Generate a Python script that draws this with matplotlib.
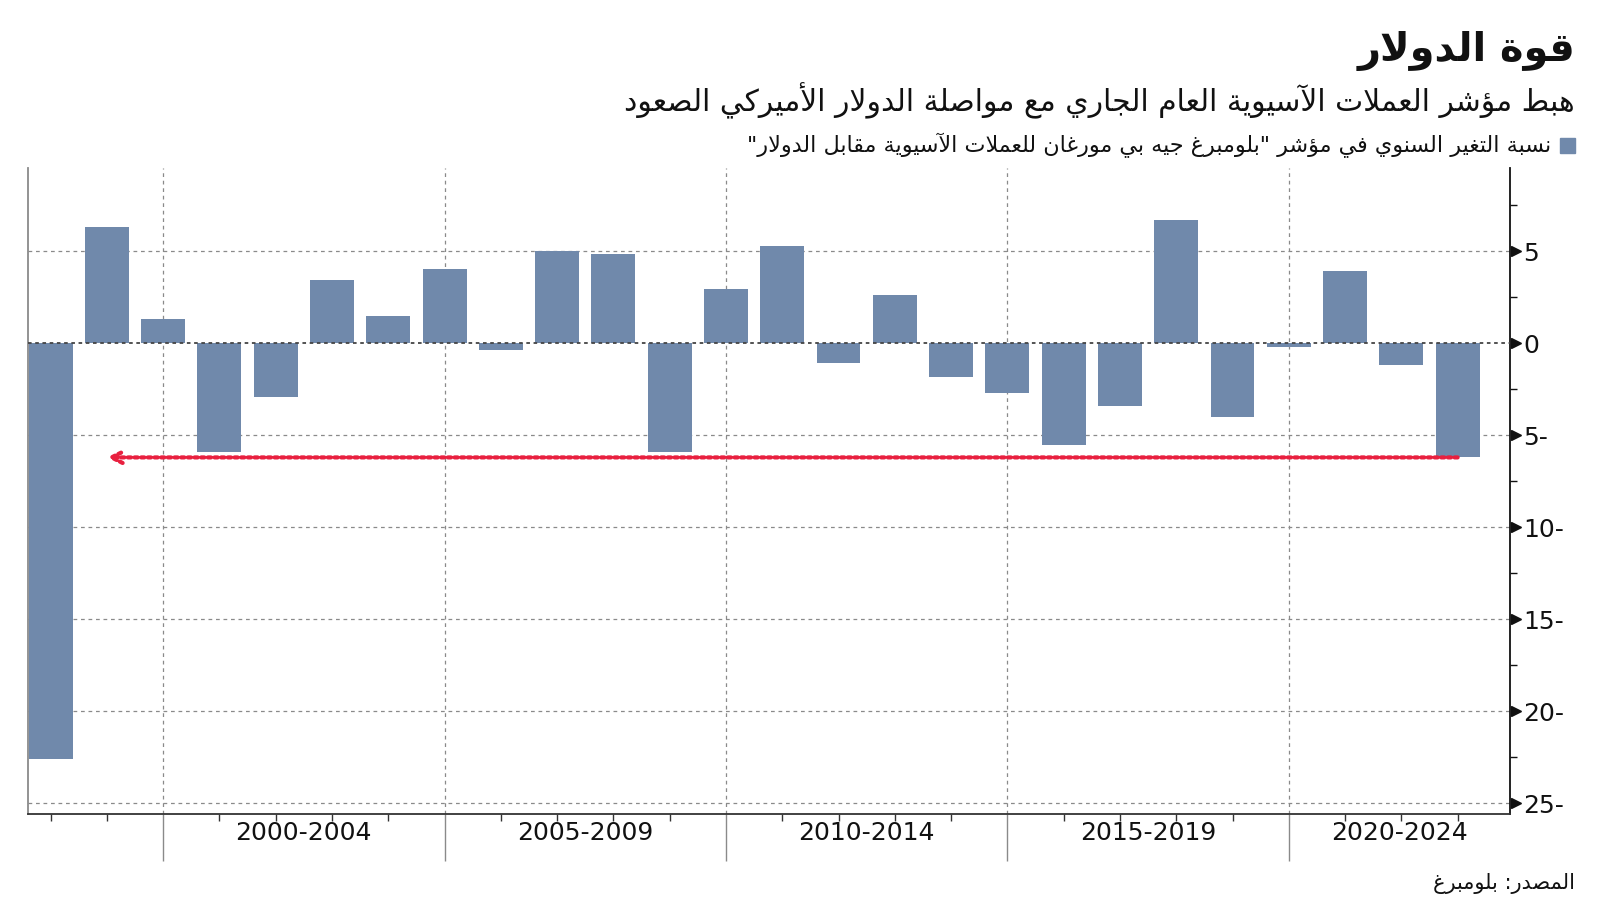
import numpy as np
import matplotlib
matplotlib.use("Agg")
import matplotlib.pyplot as plt
from matplotlib.ticker import FixedLocator, FixedFormatter, MultipleLocator

# ---------------- data ----------------
years = list(range(1997, 2023))
values = [-22.6, 6.3, 1.3, -5.9, -2.9, 3.45, 1.5, 4.05, -0.35, 5.0,
          4.85, -5.9, 2.95, 5.3, -1.05, 2.65, -1.85, -2.7, -5.55, -3.4,
          6.7, -4.0, -0.2, 3.95, -1.15, -6.2]
y_ticks = [5, 0, -5, -10, -15, -20, -25]
y_tick_labels = ["5", "0", "5-", "10-", "15-", "20-", "25-"]
group_starts = [2000, 2005, 2010, 2015, 2020]
group_labels = ["2000-2004", "2005-2009", "2010-2014", "2015-2019", "2020-2024"]

title = "قوة الدولار"
subtitle = "هبط مؤشر العملات الآسيوية العام الجاري مع مواصلة الدولار الأميركي الصعود"
legend_label = 'نسبة التغير السنوي في مؤشر "بلومبرغ جيه بي مورغان للعملات الآسيوية مقابل الدولار"'
source = "المصدر: بلومبرغ"

# ---------------- minimal Arabic shaping ----------------
_F = {
    'ء': (0xFE80, None, None, None),
    'آ': (0xFE81, 0xFE82, None, None),
    'أ': (0xFE83, 0xFE84, None, None),
    'ؤ': (0xFE85, 0xFE86, None, None),
    'إ': (0xFE87, 0xFE88, None, None),
    'ئ': (0xFE89, 0xFE8A, 0xFE8B, 0xFE8C),
    'ا': (0xFE8D, 0xFE8E, None, None),
    'ب': (0xFE8F, 0xFE90, 0xFE91, 0xFE92),
    'ة': (0xFE93, 0xFE94, None, None),
    'ت': (0xFE95, 0xFE96, 0xFE97, 0xFE98),
    'ث': (0xFE99, 0xFE9A, 0xFE9B, 0xFE9C),
    'ج': (0xFE9D, 0xFE9E, 0xFE9F, 0xFEA0),
    'ح': (0xFEA1, 0xFEA2, 0xFEA3, 0xFEA4),
    'خ': (0xFEA5, 0xFEA6, 0xFEA7, 0xFEA8),
    'د': (0xFEA9, 0xFEAA, None, None),
    'ذ': (0xFEAB, 0xFEAC, None, None),
    'ر': (0xFEAD, 0xFEAE, None, None),
    'ز': (0xFEAF, 0xFEB0, None, None),
    'س': (0xFEB1, 0xFEB2, 0xFEB3, 0xFEB4),
    'ش': (0xFEB5, 0xFEB6, 0xFEB7, 0xFEB8),
    'ص': (0xFEB9, 0xFEBA, 0xFEBB, 0xFEBC),
    'ض': (0xFEBD, 0xFEBE, 0xFEBF, 0xFEC0),
    'ط': (0xFEC1, 0xFEC2, 0xFEC3, 0xFEC4),
    'ظ': (0xFEC5, 0xFEC6, 0xFEC7, 0xFEC8),
    'ع': (0xFEC9, 0xFECA, 0xFECB, 0xFECC),
    'غ': (0xFECD, 0xFECE, 0xFECF, 0xFED0),
    'ف': (0xFED1, 0xFED2, 0xFED3, 0xFED4),
    'ق': (0xFED5, 0xFED6, 0xFED7, 0xFED8),
    'ك': (0xFED9, 0xFEDA, 0xFEDB, 0xFEDC),
    'ل': (0xFEDD, 0xFEDE, 0xFEDF, 0xFEE0),
    'م': (0xFEE1, 0xFEE2, 0xFEE3, 0xFEE4),
    'ن': (0xFEE5, 0xFEE6, 0xFEE7, 0xFEE8),
    'ه': (0xFEE9, 0xFEEA, 0xFEEB, 0xFEEC),
    'و': (0xFEED, 0xFEEE, None, None),
    'ى': (0xFEEF, 0xFEF0, None, None),
    'ي': (0xFEF1, 0xFEF2, 0xFEF3, 0xFEF4),
}
_LA = {'ا': (0xFEFB, 0xFEFC), 'آ': (0xFEF5, 0xFEF6),
       'أ': (0xFEF7, 0xFEF8), 'إ': (0xFEF9, 0xFEFA)}


def ar(text):
    items = []
    i = 0
    while i < len(text):
        c = text[i]
        if c == 'ل' and i + 1 < len(text) and text[i + 1] in _LA:
            items.append(('LA', text[i + 1]))
            i += 2
        else:
            items.append(c)
            i += 1

    def is_ar(it):
        return isinstance(it, tuple) or it in _F

    def dual(it):
        return (not isinstance(it, tuple)) and it in _F and _F[it][2] is not None

    out = []
    for k, it in enumerate(items):
        if not is_ar(it):
            out.append(it)
            continue
        prev = items[k - 1] if k > 0 else None
        nxt = items[k + 1] if k + 1 < len(items) else None
        jp = prev is not None and dual(prev)
        if isinstance(it, tuple):
            iso, fin = _LA[it[1]]
            out.append(chr(fin if jp else iso))
            continue
        jn = dual(it) and nxt is not None and is_ar(nxt)
        iso, fin, ini, med = _F[it]
        if jp and jn:
            out.append(chr(med))
        elif jp:
            out.append(chr(fin))
        elif jn:
            out.append(chr(ini))
        else:
            out.append(chr(iso))
    return ''.join(out)[::-1]


# ---------------- figure ----------------
plt.rcParams['font.family'] = ['DejaVu Sans']
W, H = 1600, 901
fig = plt.figure(figsize=(W / 100, H / 100), dpi=100)
fig.patch.set_facecolor('white')

L, R, T, B = 27.5, 1510, 168, 814
ax = fig.add_axes([L / W, 1 - B / H, (R - L) / W, (B - T) / H])

bar_color = '#7089ab'
xpos = np.array(years) + 1.0  # bars sit at year-end on the date axis
ax.bar(xpos, values, width=0.78, color=bar_color, zorder=2)

ax.set_xlim(1997.59, 2023.93)
ax.set_ylim(-25.58, 9.53)

# grid lines
for yv in y_ticks:
    if yv == 0:
        ax.axhline(0, color='#444444', lw=1.3, ls=(0, (2, 2)), zorder=3)
    else:
        ax.axhline(yv, color='#8a8a8a', lw=0.9, ls=(0, (3, 3)), zorder=1)
for xv in group_starts:
    ax.axvline(xv, color='#8a8a8a', lw=0.9, ls=(0, (3, 3)), zorder=1)

# spines
ax.spines['top'].set_visible(False)
ax.spines['left'].set_color('#8a8a8a')
ax.spines['left'].set_linewidth(1.3)
ax.spines['right'].set_color('#111111')
ax.spines['right'].set_linewidth(1.3)
ax.spines['bottom'].set_color('#333333')
ax.spines['bottom'].set_linewidth(1.3)

# y axis on the right
ax.yaxis.tick_right()
ax.yaxis.set_major_locator(FixedLocator(y_ticks))
ax.yaxis.set_major_formatter(FixedFormatter(y_tick_labels))
ax.yaxis.set_minor_locator(FixedLocator([7.5, 2.5, -2.5, -7.5, -12.5, -17.5, -22.5]))
ax.tick_params(axis='y', which='major', length=0, pad=9.5, labelsize=18,
               labelcolor='#111111',
               left=False, right=True, labelleft=False, labelright=True)
ax.tick_params(axis='y', which='minor', length=5, width=1, color='#111111',
               left=False, right=True)
# triangle markers at major ticks
ax.plot([1.004] * len(y_ticks), y_ticks, linestyle='none', marker='>',
        markersize=6.5, color='#111111', transform=ax.get_yaxis_transform(),
        clip_on=False, zorder=5)

# x axis
ax.xaxis.set_major_locator(FixedLocator(group_starts))
ax.xaxis.set_minor_locator(MultipleLocator(1))
ax.tick_params(axis='x', which='major', length=34, width=1, color='#8a8a8a',
               labelbottom=False)
ax.tick_params(axis='x', which='minor', length=5, width=1, color='#333333')

xmax = ax.get_xlim()[1]
for s, lab in zip(group_starts, group_labels):
    mid = (s + min(s + 5, xmax)) / 2.0
    ax.text(mid, -0.03, lab, transform=ax.get_xaxis_transform(), ha='center',
            va='center', fontsize=18, color='#111111')

# arrow
ax.annotate('', xy=(years[1] + 1, values[-1]), xytext=(years[-1] + 1, values[-1]),
            arrowprops=dict(arrowstyle='->', color='#e8203f', lw=3.0,
                            linestyle=(0, (0.75, 0.85)), mutation_scale=20,
                            shrinkA=0, shrinkB=0), zorder=6)

# texts
renderer = fig.canvas.get_renderer()


def fit(txt, target_w):
    bb = txt.get_window_extent(renderer)
    txt.set_fontsize(txt.get_fontsize() * target_w / bb.width)


t1 = fig.text(1575 / W, 1 - 51 / H, ar(title), ha='right', va='center',
              fontsize=28, fontweight='bold', color='#111111')
fit(t1, 218)
t2 = fig.text(1575 / W, 1 - 101 / H, ar(subtitle), ha='right', va='center',
              fontsize=20, color='#111111')
fit(t2, 951)
t3 = fig.text(1551 / W, 1 - 145 / H, ar(legend_label), ha='right', va='center',
              fontsize=14, color='#111111')
fit(t3, 814)
fig.patches.append(matplotlib.patches.Rectangle((1560 / W, 1 - 153 / H), 15 / W, 15 / H,
                                                transform=fig.transFigure,
                                                color=bar_color, figure=fig))
t4 = fig.text(1575 / W, 1 - 884 / H, ar(source), ha='right', va='center',
              fontsize=14, color='#111111')
fit(t4, 143)

fig.savefig('out.png', dpi=100, facecolor='white')
